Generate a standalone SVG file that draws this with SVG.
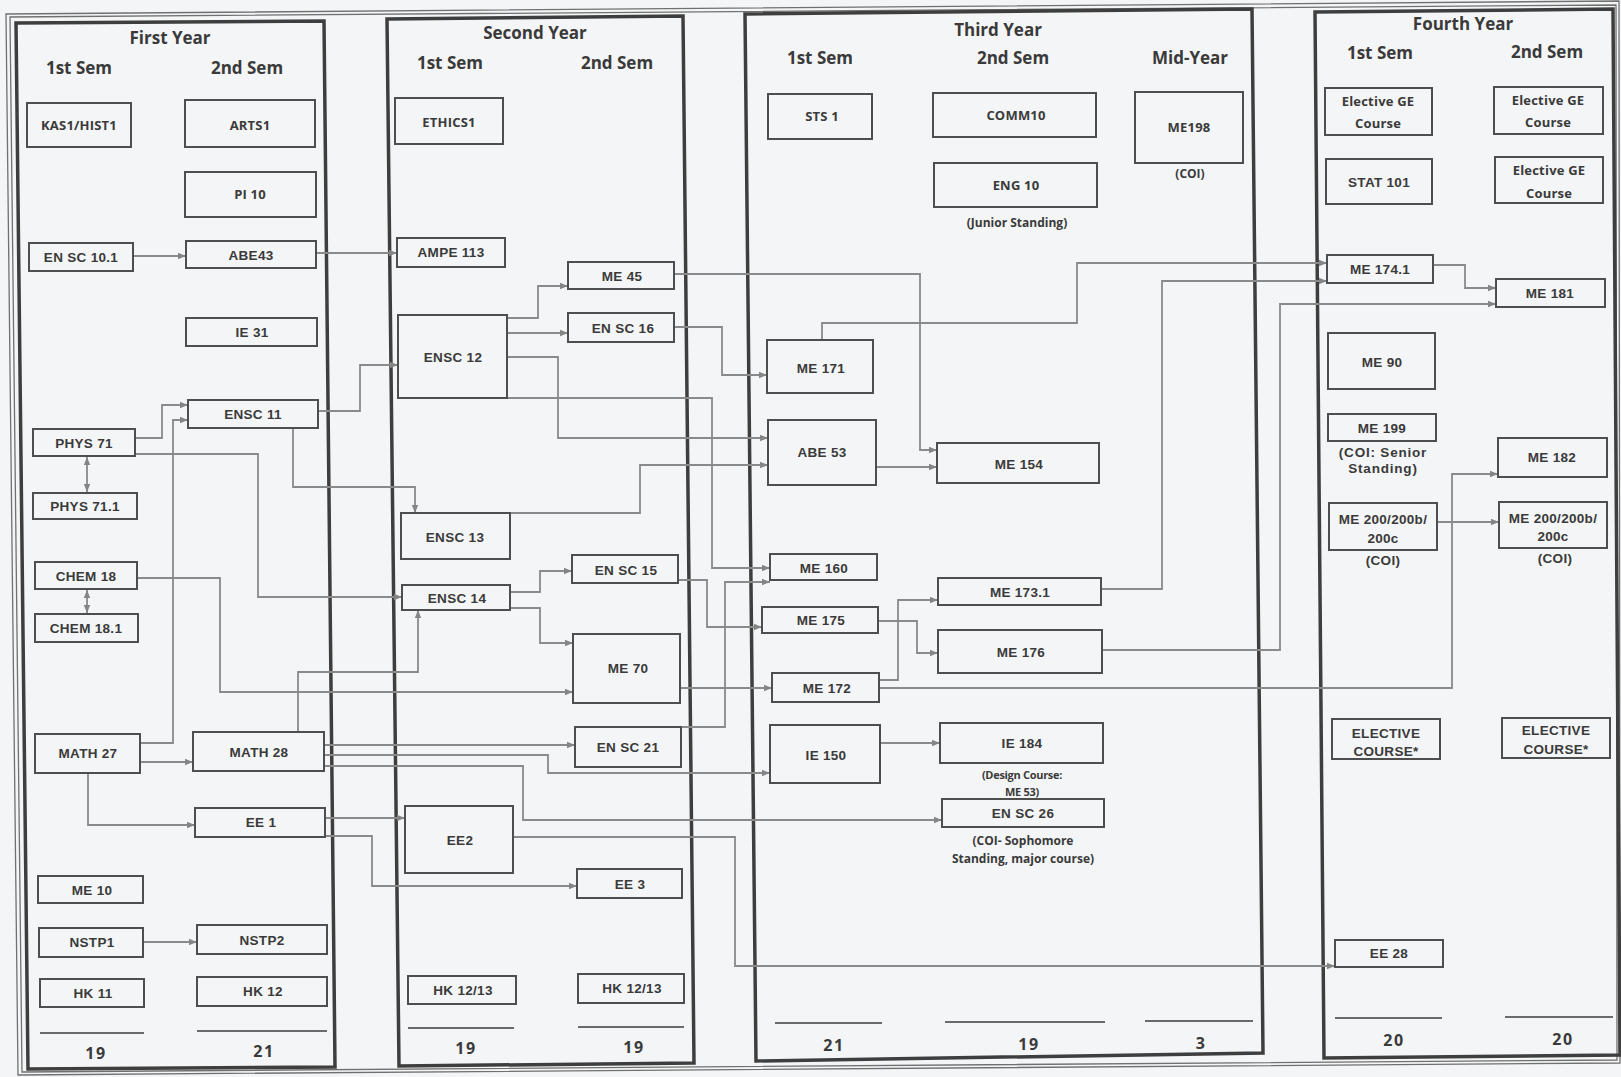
<svg xmlns="http://www.w3.org/2000/svg" width="1621" height="1077" viewBox="0 0 1621 1077">
<defs>
<style>
.bg{fill:#f4f5f6}
.outer{fill:none;stroke:#707070;stroke-width:1.3}
.yr{fill:none;stroke:#3e3e3e;stroke-width:3.5;stroke-linejoin:miter}
.node rect{fill:none;stroke:#4e4e4e;stroke-width:2}
text{fill:#3a3a3a;text-anchor:middle}
.h{font-family:"Open Sans","Liberation Sans",sans-serif;font-weight:700;font-size:17px}
.a{font-family:"Liberation Sans",Arial,sans-serif;font-weight:700;font-size:13.5px;letter-spacing:0.3px}
.c{font-family:"Open Sans","Liberation Sans",sans-serif;font-weight:700;font-size:13px;letter-spacing:0.2px}
.n{font-family:"Open Sans","Liberation Sans",sans-serif;font-weight:700;font-size:12px}
.ns{font-family:"Open Sans","Liberation Sans",sans-serif;font-weight:700;font-size:11px;letter-spacing:-0.3px}
.na{font-family:"Liberation Sans",Arial,sans-serif;font-weight:700;font-size:13.5px;letter-spacing:0.8px}
.t{font-family:"Open Sans","Liberation Sans",sans-serif;font-weight:700;font-size:16px;letter-spacing:1.5px}
.ul{stroke:#6a6a6a;stroke-width:1.8}
#connectors path{fill:none;stroke:#8a8a8a;stroke-width:1.8;marker-end:url(#ah)}
#connectors path.dbl{marker-start:url(#ah)}
</style>
<marker id="ah" viewBox="0 0 10 10" refX="10" refY="5" markerWidth="8" markerHeight="8" markerUnits="userSpaceOnUse" orient="auto-start-reverse">
<path d="M0,1 L10,5 L0,9 z" fill="#858585"/>
</marker>
</defs>
<rect class="bg" x="0" y="0" width="1621" height="1077"/>

<g id="frames">
<polygon class="outer" points="6,14 1619,1 1620,1063 18,1075"/>
<polygon class="outer" points="10,17 1616,5 1617,1060 22,1072"/>
<polygon class="yr" points="16,23 324,21 335,1067 28,1069"/>
<polygon class="yr" points="387,19 683,16 694,1063 399,1066"/>
<polygon class="yr" points="745,14 1252,9 1263,1053 756,1061"/>
<polygon class="yr" points="1315,12 1613,9 1620,1055 1324,1058"/>
</g>

<g id="headings">
<text class="h" x="170" y="44">First Year</text>
<text class="h" x="79" y="74">1st Sem</text>
<text class="h" x="247" y="74">2nd Sem</text>
<text class="h" x="535" y="39">Second Year</text>
<text class="h" x="450" y="69">1st Sem</text>
<text class="h" x="617" y="69">2nd Sem</text>
<text class="h" x="998" y="36">Third Year</text>
<text class="h" x="820" y="64">1st Sem</text>
<text class="h" x="1013" y="64">2nd Sem</text>
<text class="h" x="1190" y="64">Mid-Year</text>
<text class="h" x="1463" y="30">Fourth Year</text>
<text class="h" x="1380" y="59">1st Sem</text>
<text class="h" x="1547" y="58">2nd Sem</text>
</g>

<g id="connectors">
<path d="M133,256 H186"/>
<path d="M316,253 H397"/>
<path d="M507,318 H538 V286 H568"/>
<path d="M507,333 H568"/>
<path d="M507,357 H558 V438 H768"/>
<path d="M507,398 H712 V568 H770"/>
<path d="M674,274 H920 V450 H937"/>
<path d="M674,327 H722 V375 H767"/>
<path d="M318,411 H360 V365 H398"/>
<path d="M135,438 H162 V405 H188"/>
<path d="M140,743 H173 V420 H188"/>
<path d="M293,428 V487 H415 V513"/>
<path d="M510,513 H640 V465 H768"/>
<path d="M135,454 H258 V597 H402"/>
<path d="M137,578 H220 V692 H573"/>
<path d="M298,732 V672 H418 V610"/>
<path d="M510,592 H540 V571 H572"/>
<path d="M510,608 H540 V643 H573"/>
<path d="M678,580 H707 V627 H762"/>
<path d="M681,727 H725 V582 H770"/>
<path d="M680,688 H772"/>
<path d="M876,467 H937"/>
<path d="M822,340 V323 H1077 V263 H1327"/>
<path d="M1101,589 H1162 V281 H1327"/>
<path d="M1433,265 H1465 V288 H1496"/>
<path d="M1102,650 H1280 V304 H1496"/>
<path d="M878,621 H917 V653 H938"/>
<path d="M879,680 H898 V600 H938"/>
<path d="M879,688 H1452 V474 H1498"/>
<path d="M1437,522 H1499"/>
<path d="M140,762 H193"/>
<path d="M88,773 V825 H195"/>
<path d="M324,745 H575"/>
<path d="M324,755 H548 V773 H770"/>
<path d="M324,766 H523 V820 H942"/>
<path d="M325,818 H405"/>
<path d="M325,836 H372 V886 H577"/>
<path d="M513,837 H735 V966 H1335"/>
<path d="M880,743 H940"/>
<path d="M143,942 H197"/>
<path class="dbl" d="M87,457 V492"/>
<path class="dbl" d="M87,590 V613"/>
</g>

<g id="n-kas1" class="node"><rect x="27" y="103" width="104" height="44"/><text class="c" x="79" y="130">KAS1/HIST1</text></g>
<g id="n-arts1" class="node"><rect x="185" y="100" width="130" height="47"/><text class="c" x="250" y="130">ARTS1</text></g>
<g id="n-pi10" class="node"><rect x="185" y="172" width="131" height="45"/><text class="c" x="250" y="199">PI 10</text></g>
<g id="n-ensc101" class="node"><rect x="29" y="243" width="104" height="28"/><text class="a" x="81" y="262">EN SC 10.1</text></g>
<g id="n-abe43" class="node"><rect x="186" y="241" width="130" height="27"/><text class="a" x="251" y="260">ABE43</text></g>
<g id="n-ie31" class="node"><rect x="186" y="318" width="131" height="28"/><text class="a" x="252" y="337">IE 31</text></g>
<g id="n-ensc11" class="node"><rect x="188" y="400" width="130" height="28"/><text class="a" x="253" y="419">ENSC 11</text></g>
<g id="n-phys71" class="node"><rect x="33" y="429" width="102" height="27"/><text class="a" x="84" y="448">PHYS 71</text></g>
<g id="n-phys711" class="node"><rect x="33" y="493" width="104" height="26"/><text class="a" x="85" y="511">PHYS 71.1</text></g>
<g id="n-chem18" class="node"><rect x="35" y="562" width="102" height="27"/><text class="a" x="86" y="581">CHEM 18</text></g>
<g id="n-chem181" class="node"><rect x="35" y="614" width="103" height="28"/><text class="a" x="86" y="633">CHEM 18.1</text></g>
<g id="n-math27" class="node"><rect x="35" y="734" width="105" height="39"/><text class="a" x="88" y="758">MATH 27</text></g>
<g id="n-math28" class="node"><rect x="193" y="732" width="131" height="39"/><text class="a" x="259" y="757">MATH 28</text></g>
<g id="n-ee1" class="node"><rect x="195" y="808" width="130" height="29"/><text class="a" x="261" y="827">EE 1</text></g>
<g id="n-me10" class="node"><rect x="38" y="876" width="105" height="27"/><text class="a" x="92" y="895">ME 10</text></g>
<g id="n-nstp1" class="node"><rect x="39" y="928" width="104" height="29"/><text class="a" x="92" y="947">NSTP1</text></g>
<g id="n-nstp2" class="node"><rect x="197" y="925" width="130" height="29"/><text class="a" x="262" y="945">NSTP2</text></g>
<g id="n-hk11" class="node"><rect x="40" y="979" width="104" height="28"/><text class="a" x="93" y="998">HK 11</text></g>
<g id="n-hk12" class="node"><rect x="197" y="977" width="130" height="29"/><text class="a" x="263" y="996">HK 12</text></g>

<g id="n-ethics1" class="node"><rect x="395" y="98" width="108" height="46"/><text class="c" x="449" y="127">ETHICS1</text></g>
<g id="n-ampe113" class="node"><rect x="397" y="238" width="108" height="29"/><text class="a" x="451" y="257">AMPE 113</text></g>
<g id="n-me45" class="node"><rect x="568" y="262" width="106" height="27"/><text class="a" x="622" y="281">ME 45</text></g>
<g id="n-ensc16" class="node"><rect x="568" y="313" width="106" height="29"/><text class="a" x="623" y="333">EN SC 16</text></g>
<g id="n-ensc12" class="node"><rect x="398" y="315" width="109" height="83"/><text class="a" x="453" y="362">ENSC 12</text></g>
<g id="n-ensc13" class="node"><rect x="401" y="513" width="109" height="46"/><text class="a" x="455" y="542">ENSC 13</text></g>
<g id="n-ensc15" class="node"><rect x="572" y="555" width="106" height="28"/><text class="a" x="626" y="575">EN SC 15</text></g>
<g id="n-ensc14" class="node"><rect x="402" y="585" width="108" height="25"/><text class="a" x="457" y="603">ENSC 14</text></g>
<g id="n-me70" class="node"><rect x="573" y="634" width="107" height="69"/><text class="a" x="628" y="673">ME 70</text></g>
<g id="n-ensc21" class="node"><rect x="575" y="727" width="106" height="40"/><text class="a" x="628" y="752">EN SC 21</text></g>
<g id="n-ee2" class="node"><rect x="405" y="806" width="108" height="67"/><text class="a" x="460" y="845">EE2</text></g>
<g id="n-ee3" class="node"><rect x="577" y="869" width="105" height="29"/><text class="a" x="630" y="889">EE 3</text></g>
<g id="n-hk1213a" class="node"><rect x="408" y="976" width="108" height="28"/><text class="a" x="463" y="995">HK 12/13</text></g>
<g id="n-hk1213b" class="node"><rect x="578" y="974" width="106" height="29"/><text class="a" x="632" y="993">HK 12/13</text></g>

<g id="n-sts1" class="node"><rect x="768" y="94" width="104" height="45"/><text class="c" x="822" y="121">STS 1</text></g>
<g id="n-comm10" class="node"><rect x="933" y="93" width="163" height="44"/><text class="c" x="1016" y="120">COMM10</text></g>
<g id="n-eng10" class="node"><rect x="934" y="163" width="163" height="44"/><text class="c" x="1016" y="190">ENG 10</text><text class="n" x="1017" y="227">(Junior Standing)</text></g>
<g id="n-me198" class="node"><rect x="1135" y="92" width="108" height="71"/><text class="c" x="1189" y="132">ME198</text><text class="n" x="1190" y="178">(COI)</text></g>
<g id="n-me171" class="node"><rect x="767" y="340" width="106" height="53"/><text class="a" x="821" y="373">ME 171</text></g>
<g id="n-abe53" class="node"><rect x="768" y="420" width="108" height="65"/><text class="a" x="822" y="457">ABE 53</text></g>
<g id="n-me154" class="node"><rect x="937" y="443" width="162" height="40"/><text class="a" x="1019" y="469">ME 154</text></g>
<g id="n-me160" class="node"><rect x="770" y="554" width="107" height="26"/><text class="a" x="824" y="573">ME 160</text></g>
<g id="n-me175" class="node"><rect x="762" y="607" width="116" height="26"/><text class="a" x="821" y="625">ME 175</text></g>
<g id="n-me172" class="node"><rect x="772" y="673" width="107" height="29"/><text class="a" x="827" y="693">ME 172</text></g>
<g id="n-me1731" class="node"><rect x="938" y="578" width="163" height="27"/><text class="a" x="1020" y="597">ME 173.1</text></g>
<g id="n-me176" class="node"><rect x="938" y="630" width="164" height="43"/><text class="a" x="1021" y="657">ME 176</text></g>
<g id="n-ie150" class="node"><rect x="770" y="725" width="110" height="58"/><text class="a" x="826" y="760">IE 150</text></g>
<g id="n-ie184" class="node"><rect x="940" y="723" width="163" height="40"/><text class="a" x="1022" y="748">IE 184</text><text class="ns" x="1022" y="779">(Design Course:</text><text class="ns" x="1022" y="796">ME 53)</text></g>
<g id="n-ensc26" class="node"><rect x="942" y="799" width="162" height="28"/><text class="a" x="1023" y="818">EN SC 26</text><text class="n" x="1023" y="845">(COI- Sophomore</text><text class="n" x="1023" y="863">Standing, major course)</text></g>

<g id="n-ge1" class="node"><rect x="1325" y="88" width="107" height="47"/><text class="c" x="1378" y="106">Elective GE</text><text class="c" x="1378" y="128">Course</text></g>
<g id="n-ge2" class="node"><rect x="1494" y="87" width="109" height="47"/><text class="c" x="1548" y="105">Elective GE</text><text class="c" x="1548" y="127">Course</text></g>
<g id="n-stat101" class="node"><rect x="1326" y="159" width="106" height="45"/><text class="a" x="1379" y="187">STAT 101</text></g>
<g id="n-ge3" class="node"><rect x="1495" y="157" width="108" height="46"/><text class="c" x="1549" y="175">Elective GE</text><text class="c" x="1549" y="198">Course</text></g>
<g id="n-me1741" class="node"><rect x="1327" y="255" width="106" height="28"/><text class="a" x="1380" y="274">ME 174.1</text></g>
<g id="n-me181" class="node"><rect x="1496" y="279" width="109" height="28"/><text class="a" x="1550" y="298">ME 181</text></g>
<g id="n-me90" class="node"><rect x="1328" y="333" width="107" height="56"/><text class="a" x="1382" y="367">ME 90</text></g>
<g id="n-me199" class="node"><rect x="1328" y="414" width="108" height="27"/><text class="a" x="1382" y="433">ME 199</text><text class="na" x="1383" y="457">(COI: Senior</text><text class="na" x="1383" y="473">Standing)</text></g>
<g id="n-me182" class="node"><rect x="1498" y="438" width="109" height="39"/><text class="a" x="1552" y="462">ME 182</text></g>
<g id="n-me200a" class="node"><rect x="1329" y="503" width="108" height="47"/><text class="a" x="1383" y="524">ME 200/200b/</text><text class="a" x="1383" y="543">200c</text><text class="a" x="1383" y="565">(COI)</text></g>
<g id="n-me200b" class="node"><rect x="1499" y="502" width="108" height="46"/><text class="a" x="1553" y="523">ME 200/200b/</text><text class="a" x="1553" y="541">200c</text><text class="a" x="1555" y="563">(COI)</text></g>
<g id="n-elec1" class="node"><rect x="1332" y="719" width="108" height="40"/><text class="a" x="1386" y="738">ELECTIVE</text><text class="a" x="1386" y="756">COURSE*</text></g>
<g id="n-elec2" class="node"><rect x="1502" y="718" width="108" height="40"/><text class="a" x="1556" y="735">ELECTIVE</text><text class="a" x="1556" y="754">COURSE*</text></g>
<g id="n-ee28" class="node"><rect x="1335" y="940" width="108" height="27"/><text class="a" x="1389" y="958">EE 28</text></g>

<g id="totals">
<line class="ul" x1="40" y1="1033" x2="144" y2="1033"/><text class="t" x="96" y="1059">19</text>
<line class="ul" x1="197" y1="1031" x2="327" y2="1031"/><text class="t" x="264" y="1057">21</text>
<line class="ul" x1="408" y1="1028" x2="514" y2="1028"/><text class="t" x="466" y="1054">19</text>
<line class="ul" x1="578" y1="1027" x2="684" y2="1027"/><text class="t" x="634" y="1053">19</text>
<line class="ul" x1="775" y1="1023" x2="882" y2="1023"/><text class="t" x="834" y="1051">21</text>
<line class="ul" x1="945" y1="1022" x2="1105" y2="1022"/><text class="t" x="1029" y="1050">19</text>
<line class="ul" x1="1145" y1="1021" x2="1253" y2="1021"/><text class="t" x="1201" y="1049">3</text>
<line class="ul" x1="1335" y1="1018" x2="1442" y2="1018"/><text class="t" x="1394" y="1046">20</text>
<line class="ul" x1="1505" y1="1017" x2="1613" y2="1017"/><text class="t" x="1563" y="1045">20</text>
</g>
</svg>
